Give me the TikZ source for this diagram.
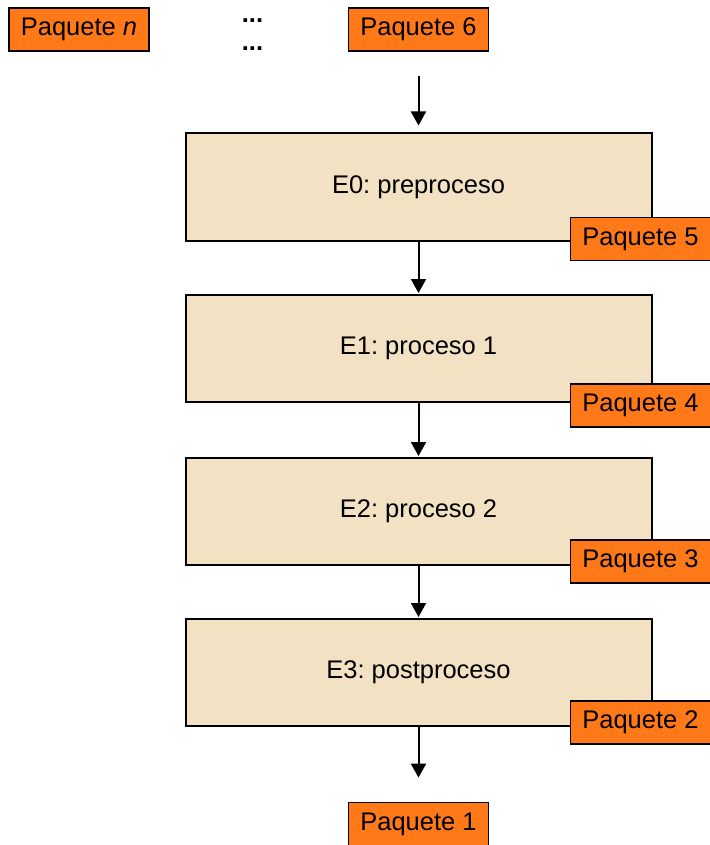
\documentclass[tikz,border=0pt]{standalone}
\usepackage{fontspec}
\setmainfont{Liberation Sans}
\usepackage{tikz}
\usetikzlibrary{calc}
\usetikzlibrary{positioning}
\usetikzlibrary{arrows.meta}
\frenchspacing
\definecolor{naranja}{RGB}{255,121,25}
\definecolor{trigo}{RGB}{243,225,195}
\tikzstyle{arrow} = [line width=2pt,-{Triangle[length=14pt,width=15pt]}]
\tikzstyle{etapa} = [draw,line width=2pt,fill=trigo,minimum width=466pt,minimum height=107pt,inner sep=0pt]
\tikzstyle{paquete} = [draw,line width=1.8pt,fill=naranja,minimum width=140pt,minimum height=43pt,inner sep=0pt]

\begin{document}
\begin{tikzpicture}[x=1pt,y=-1pt,every node/.style={font=\fontsize{25.5}{30}\selectfont}]
	\useasboundingbox (0,0) rectangle (709,845);
	\node[paquete] (pn) at (79,29.5) {Paquete \textit{n}};
	\node[paquete] (p6) at (418.5,29.5) {Paquete 6};
	\node[anchor=base] (d1) at (252.5,22.5) {\textbf{...}};
	\node[anchor=base] (d2) at (252.5,50.5) {\textbf{...}};
	\node[etapa] (e0) at (418.5,187) {E0: preproceso};
	\node[etapa] (e1) at (418.5,348.5) {E1: proceso 1};
	\node[etapa] (e2) at (418.5,511.5) {E2: proceso 2};
	\node[etapa] (e3) at (418.5,672.5) {E3: postproceso};
	\node[paquete] (p5) at (640.5,239) {Paquete 5};
	\node[paquete] (p4) at (640.5,405.5) {Paquete 4};
	\node[paquete] (p3) at (640.5,561.5) {Paquete 3};
	\node[paquete] (p2) at (640.5,722.5) {Paquete 2};
	\node[paquete] (p1) at (418.5,824) {Paquete 1};
	\draw[arrow,shorten <=24pt,shorten >=7pt] (p6) -- (e0);
	\draw[arrow,shorten >=1pt] (e0) -- (e1);
	\draw[arrow,shorten >=1pt] (e1) -- (e2);
	\draw[arrow,shorten >=1pt] (e2) -- (e3);
	\draw[arrow,shorten >=24pt] (e3) -- (p1);
\end{tikzpicture}
\end{document}
